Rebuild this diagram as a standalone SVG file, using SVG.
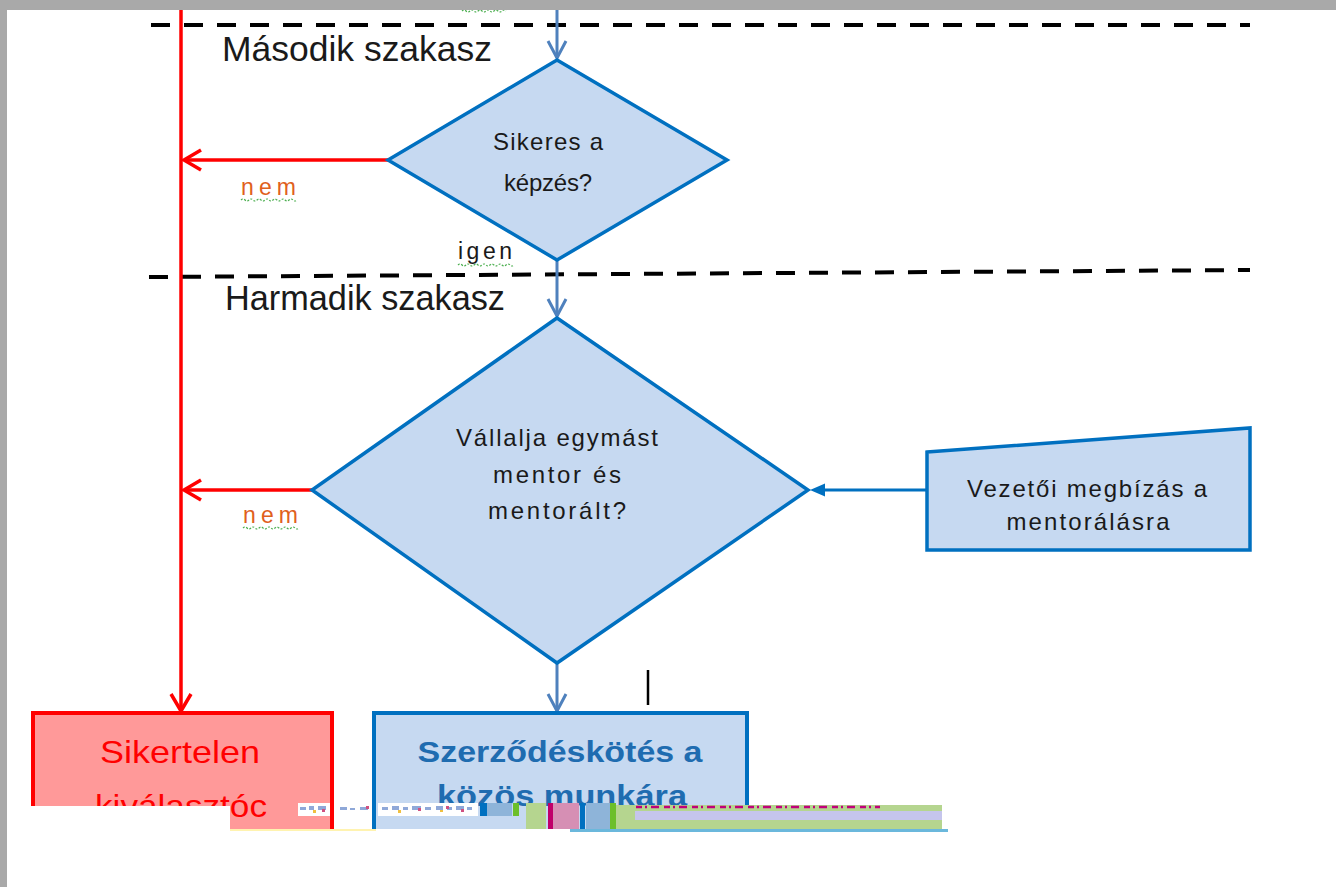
<svg xmlns="http://www.w3.org/2000/svg" width="1336" height="887" viewBox="0 0 1336 887">
<style>
.t{font-family:"Liberation Sans",Arial,sans-serif;fill:#1a1a1a}
.hd{font-size:35px}
.dt{font-size:24px}
.lbl{font-size:23px}
.dia{fill:#c6d9f1;stroke:#0070c0;stroke-width:3.5;stroke-linejoin:miter}
.red{stroke:#ff0000;stroke-width:3.5;fill:none}
.blu{stroke:#4f81bd;stroke-width:3;fill:none}
.dash{stroke:#000;stroke-width:4;stroke-dasharray:19 14;fill:none}
.wav{stroke:#4caf50;stroke-width:1.2;fill:none;stroke-dasharray:2 1.5}
.nem{font-family:"Liberation Sans",Arial,sans-serif;font-size:23px;fill:#e0601c}
</style>
<rect width="1336" height="887" fill="#ffffff"/>

<!-- section separators -->
<line class="dash" x1="151" y1="25" x2="1250" y2="25"/>
<line class="dash" x1="149" y1="277" x2="1250" y2="270"/>
<text class="t hd" x="222" y="61" textLength="270" lengthAdjust="spacingAndGlyphs">Második szakasz</text>
<text class="t hd" x="225" y="310" textLength="280" lengthAdjust="spacingAndGlyphs">Harmadik szakasz</text>

<g id="connectors">
  <!-- red failure path -->
  <line class="red" x1="181" y1="10" x2="181" y2="711"/>
  <polyline class="red" points="171,694 181,711 191,694"/>
  <line class="red" x1="388" y1="160" x2="184" y2="160"/>
  <polyline class="red" points="201,150 184,160 201,170"/>
  <line class="red" x1="312" y1="490" x2="184" y2="490"/>
  <polyline class="red" points="201,480 184,490 201,500"/>
  <!-- blue flow -->
  <line class="blu" x1="557" y1="10" x2="557" y2="58"/>
  <polyline class="blu" points="548,41 557,58 566,41"/>
  <line class="blu" x1="557" y1="260" x2="557" y2="316"/>
  <polyline class="blu" points="548,299 557,316 566,299"/>
  <line class="blu" x1="557" y1="663" x2="557" y2="711"/>
  <polyline class="blu" points="548,694 557,711 566,694"/>
  <line x1="927" y1="490" x2="822" y2="490" stroke="#0070c0" stroke-width="3"/>
  <polygon points="810,490 825,483.5 825,496.5" fill="#0070c0"/>
  <!-- labels -->
  <text class="nem" x="241" y="195" textLength="55" lengthAdjust="spacing">nem</text>
  <path class="wav" d="M241 200 q2 -2 4 0 t4 0 t4 0 t4 0 t4 0 t4 0 t4 0 t4 0 t4 0 t4 0 t4 0 t4 0 t4 0 t4 0"/>
  <text class="nem" x="243" y="523" textLength="55" lengthAdjust="spacing">nem</text>
  <path class="wav" d="M243 528 q2 -2 4 0 t4 0 t4 0 t4 0 t4 0 t4 0 t4 0 t4 0 t4 0 t4 0 t4 0 t4 0 t4 0 t4 0"/>
  <text class="t lbl" x="458" y="259" textLength="54" lengthAdjust="spacing">igen</text>
  <path class="wav" d="M458 265 q2 -2 4 0 t4 0 t4 0 t4 0 t4 0 t4 0 t4 0 t4 0 t4 0 t4 0 t4 0 t4 0 t4 0 t4 0"/>
  <path class="wav" d="M462 11 q2 -2 4 0 t4 0 t4 0 t4 0 t4 0 t4 0 t4 0 t4 0 t4 0 t4 0 t4 0"/>
  <!-- cursor mark -->
  <line x1="648" y1="670" x2="648" y2="705" stroke="#000" stroke-width="2.5"/>
</g>

<g id="node-sikeres">
  <polygon class="dia" points="557,60 727,160 557,260 388,160"/>
  <text class="t dt" x="548" y="150" text-anchor="middle" textLength="110" lengthAdjust="spacing">Sikeres a</text>
  <text class="t dt" x="548" y="191" text-anchor="middle" textLength="88" lengthAdjust="spacing">képzés?</text>
</g>

<g id="node-vallalja">
  <polygon class="dia" points="557,318 808,490 557,663 312,490"/>
  <text class="t dt" x="557" y="446" text-anchor="middle" textLength="202" lengthAdjust="spacing">Vállalja egymást</text>
  <text class="t dt" x="557" y="483" text-anchor="middle" textLength="128" lengthAdjust="spacing">mentor és</text>
  <text class="t dt" x="557" y="519" text-anchor="middle" textLength="138" lengthAdjust="spacing">mentorált?</text>
</g>

<g id="node-vezetoi">
  <polygon points="927,452 1250,428 1250,550 927,550" fill="#c6d9f1" stroke="#0070c0" stroke-width="3.5"/>
  <text class="t dt" x="1087" y="497" text-anchor="middle" textLength="240" lengthAdjust="spacing">Vezetői megbízás a</text>
  <text class="t dt" x="1088" y="530" text-anchor="middle" textLength="163" lengthAdjust="spacing">mentorálásra</text>
</g>

<g id="node-sikertelen">
  <rect x="33" y="713" width="299" height="116" fill="#ff9999"/>
  <path d="M33 829 V713 H332 V829" fill="none" stroke="#ff0000" stroke-width="4"/>
  <text x="180" y="763" text-anchor="middle" font-family="Liberation Sans, Arial, sans-serif" font-size="32" fill="#ff0000" textLength="160" lengthAdjust="spacingAndGlyphs">Sikertelen</text>
  <text x="181" y="817" text-anchor="middle" font-family="Liberation Sans, Arial, sans-serif" font-size="32" fill="#ff0000" textLength="172" lengthAdjust="spacingAndGlyphs">kiválasztóc</text>
</g>

<g id="node-szerzodes">
  <rect x="374" y="713" width="373" height="116" fill="#c6d9f1"/>
  <path d="M374 829 V713 H747 V805" fill="none" stroke="#0070c0" stroke-width="4"/>
  <text x="560" y="762" text-anchor="middle" font-family="Liberation Sans, Arial, sans-serif" font-size="30" font-weight="bold" fill="#1f6cb0" textLength="285" lengthAdjust="spacingAndGlyphs">Szerződéskötés a</text>
  <text x="562" y="806" text-anchor="middle" font-family="Liberation Sans, Arial, sans-serif" font-size="30" font-weight="bold" fill="#1f6cb0" textLength="250" lengthAdjust="spacingAndGlyphs">közös munkára</text>
</g>

<!-- rendering glitch strip at bottom -->
<g id="glitch">
  <rect x="7" y="806" width="223" height="81" fill="#ffffff"/>
  <rect x="7" y="830" width="1329" height="57" fill="#ffffff"/>
  <rect x="230" y="829" width="146" height="2" fill="#fff3b0"/>
  <rect x="298" y="803" width="32" height="13" fill="#ffffff"/>
  <rect x="336" y="803" width="36" height="13" fill="#ffffff"/>
  <rect x="378" y="803" width="100" height="13" fill="#ffffff"/>
  <g fill="#8fa8d8">
    <rect x="300" y="807" width="6" height="3"/><rect x="309" y="806" width="5" height="4"/><rect x="318" y="806" width="8" height="4"/>
    <rect x="340" y="807" width="7" height="3"/><rect x="350" y="808" width="5" height="2"/><rect x="360" y="807" width="8" height="3"/>
    <rect x="382" y="807" width="6" height="3"/><rect x="392" y="806" width="7" height="4"/><rect x="403" y="807" width="5" height="3"/>
    <rect x="412" y="806" width="9" height="4"/><rect x="425" y="807" width="6" height="3"/><rect x="436" y="806" width="7" height="4"/>
    <rect x="447" y="807" width="5" height="3"/><rect x="456" y="806" width="8" height="4"/><rect x="467" y="807" width="5" height="3"/>
  </g>
  <g fill="#d05080">
    <rect x="322" y="809" width="3" height="3"/><rect x="366" y="806" width="3" height="3"/><rect x="418" y="808" width="3" height="3"/>
    <rect x="446" y="806" width="3" height="3"/><rect x="461" y="809" width="3" height="3"/>
  </g>
  <g fill="#f0c040">
    <rect x="313" y="810" width="3" height="3"/><rect x="398" y="810" width="3" height="3"/><rect x="440" y="810" width="3" height="2"/>
  </g>
  <rect x="480" y="803" width="7" height="13" fill="#0070c0"/>
  <rect x="487" y="803" width="25" height="13" fill="#8eb4d9"/>
  <rect x="513" y="803" width="6" height="13" fill="#6cbf2a"/>
  <rect x="526" y="803" width="20" height="26" fill="#b5d58f"/>
  <rect x="548" y="803" width="5" height="26" fill="#c0006a"/>
  <rect x="553" y="803" width="26" height="26" fill="#d68fb4"/>
  <rect x="580" y="803" width="5" height="26" fill="#0070c0"/>
  <rect x="586" y="803" width="24" height="26" fill="#8eb4d9"/>
  <rect x="610" y="803" width="6" height="26" fill="#6cbf2a"/>
  <rect x="616" y="805" width="326" height="24" fill="#b5d58f"/>
  <rect x="635" y="811" width="307" height="9" fill="#c5c5ec"/>
  <rect x="570" y="829" width="378" height="3" fill="#6bb8dc"/>
  <path d="M636 807 H880" stroke="#c0007a" stroke-width="2.5" stroke-dasharray="6 3 2 4 8 5" fill="none"/>
</g>

<!-- window frame -->
<rect x="0" y="0" width="1336" height="10" fill="#a9a9a9"/>
<rect x="0" y="0" width="7" height="887" fill="#a9a9a9"/>
</svg>
